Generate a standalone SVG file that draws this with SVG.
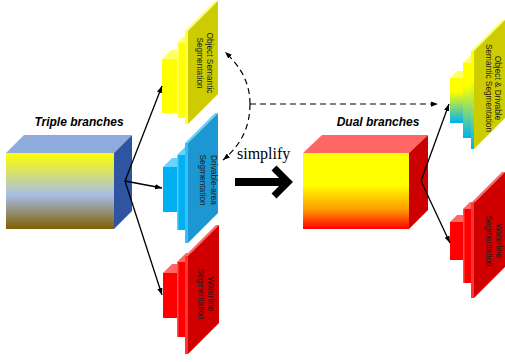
<svg xmlns="http://www.w3.org/2000/svg" width="505" height="362" viewBox="0 0 505 362">
<defs>
<linearGradient id="gTriple" x1="0" y1="0" x2="0" y2="1">
<stop offset="0" stop-color="#FFFF00"/>
<stop offset="0.55" stop-color="#A9BEE6"/>
<stop offset="1" stop-color="#7F6000"/>
</linearGradient>
<linearGradient id="gDual" x1="0" y1="0" x2="0" y2="1">
<stop offset="0" stop-color="#FFFF00"/>
<stop offset="0.42" stop-color="#FFFF00"/>
<stop offset="0.75" stop-color="#FF9900"/>
<stop offset="1" stop-color="#FF0000"/>
</linearGradient>
<linearGradient id="gYC" x1="0" y1="0" x2="0" y2="1">
<stop offset="0" stop-color="#FFFF00"/>
<stop offset="0.3" stop-color="#FFFF00"/>
<stop offset="1" stop-color="#00B0F0"/>
</linearGradient>
<marker id="ah" viewBox="0 0 8 6" refX="8" refY="3" markerWidth="7" markerHeight="5.5" orient="auto" markerUnits="userSpaceOnUse">
<path d="M0,0 L8,3 L0,6 z" fill="#000"/>
</marker>
</defs>
<style>
.title{font-family:"Liberation Sans",Arial,sans-serif;font-size:12px;font-weight:bold;font-style:italic;fill:#000}
.lbl{font-family:"Liberation Sans",Arial,sans-serif;font-size:8.3px;fill:#1a1a1a;text-anchor:middle}
.conn{stroke:#000;stroke-width:1.3;fill:none;marker-end:url(#ah)}
.dash{stroke:#000;stroke-width:1.2;fill:none;stroke-dasharray:6,4;marker-end:url(#ah)}
.yTop{fill:#FFFF66}.yFront{fill:#FFFF00}.yStrip{fill:#FFFF40}.ySide{fill:#CCCC00}
.bTop{fill:#66D4FF}.bFront{fill:#00B0F0}.bStrip{fill:#33C0FF}.bSide{fill:#1C97D2}
.rTop{fill:#FF6666}.rFront{fill:#FF0000}.rStrip{fill:#FF3333}.rSide{fill:#D10000}
.ycFront{fill:url(#gYC)}
</style>

<g id="title-triple"><text class="title" x="79" y="125.5" text-anchor="middle">Triple branches</text></g>
<g id="cube-triple">
<polygon points="6,153 24,135 132,135 114,153" fill="#8FAADC"/>
<polygon points="114,153 132,135 132,211 114,229" fill="#2F55A2"/>
<rect x="6" y="153" width="108" height="76" fill="url(#gTriple)"/>
</g>

<g id="stack-object">
<polygon class="yTop" points="162,59 177,59 186,50 171,50"/>
<rect class="yFront" x="162" y="59" width="15" height="54"/>
<polygon class="yTop" points="177,43 185,43 194,34 186,34"/>
<rect class="yFront" x="177" y="43" width="8" height="75"/>
<rect x="177" y="43" width="1.5" height="75" fill="#FFFF99"/>
<polygon class="yTop" points="185,31 188,31 218,1 215,1"/>
<rect class="yStrip" x="185" y="31" width="3" height="93"/>
<polygon class="ySide" points="188,31 218,1 218,94 188,124"/>
<text class="lbl" transform="translate(207,63) rotate(90)">Object Semantic</text>
<text class="lbl" transform="translate(197,63) rotate(90)">Segmentation</text>
</g>

<g id="stack-drivable">
<polygon class="bTop" points="163,167 177,167 186,158 172,158"/>
<rect class="bFront" x="163" y="167" width="14" height="45"/>
<polygon class="bTop" points="177,155 185,155 194,146 186,146"/>
<rect class="bFront" x="177" y="155" width="8" height="75"/>
<rect x="177" y="155" width="1.5" height="75" fill="#4FCBFF"/>
<polygon class="bTop" points="185,143 188,143 218,113 215,113"/>
<rect class="bStrip" x="185" y="143" width="3" height="100"/>
<polygon class="bSide" points="188,143 218,113 218,213 188,243"/>
<text class="lbl" transform="translate(211,180) rotate(90)">Drivable-area</text>
<text class="lbl" transform="translate(200,180) rotate(90)">Segmentation</text>
</g>

<g id="stack-waterline-left">
<polygon class="rTop" points="163,273 177,273 186,264 172,264"/>
<rect class="rFront" x="163" y="273" width="14" height="45"/>
<polygon class="rTop" points="177,262 185,262 194,253 186,253"/>
<rect class="rFront" x="177" y="262" width="8" height="75"/>
<rect x="177" y="262" width="1.5" height="75" fill="#FF4D4D"/>
<polygon class="rTop" points="185,256 188,256 219,225 216,225"/>
<rect class="rStrip" x="185" y="256" width="3" height="98"/>
<polygon class="rSide" points="188,256 219,225 219,323 188,354"/>
<text class="lbl" transform="translate(207.5,294) rotate(90)">Waterline</text>
<text class="lbl" transform="translate(197.5,294) rotate(90)">Segmentation</text>
</g>

<g id="label-simplify"><text x="237" y="159" font-family="'Liberation Serif','Times New Roman',serif" font-size="16" fill="#000">simplify</text></g>
<g id="big-arrow">
<line x1="235" y1="182" x2="285" y2="182" stroke="#000" stroke-width="8"/>
<path d="M274,168 L288,182 L274,196" fill="none" stroke="#000" stroke-width="7" stroke-linejoin="miter"/>
</g>

<g id="title-dual"><text class="title" x="378" y="126" text-anchor="middle">Dual branches</text></g>
<g id="cube-dual">
<polygon points="303,153 322,135 428,135 409,153" fill="#FF6666"/>
<polygon points="409,153 428,135 428,210 409,229" fill="#CC0000"/>
<rect x="303" y="153" width="106" height="76" fill="url(#gDual)"/>
</g>

<g id="stack-object-drivable">
<polygon class="yTop" points="450,78 463,78 470,71 457,71"/>
<rect class="ycFront" x="450" y="78" width="13" height="45"/>
<polygon class="yTop" points="463,63 471,63 478,56 470,56"/>
<rect class="ycFront" x="463" y="63" width="8" height="75"/>
<polygon class="yTop" points="471,51 474,51 505,20 502,20"/>
<rect class="ycFront" x="471" y="51" width="3" height="98"/>
<polygon class="ySide" points="474,51 505,20 505,118 474,149"/>
<text class="lbl" transform="translate(495,88) rotate(90)">Object &amp; Drivable</text>
<text class="lbl" transform="translate(485.5,88) rotate(90)">Semantic Segmentation</text>
</g>

<g id="stack-waterline-right">
<polygon class="rTop" points="450,222 463,222 470,215 457,215"/>
<rect class="rFront" x="450" y="222" width="13" height="38"/>
<polygon class="rTop" points="463,209 471,209 478,202 470,202"/>
<rect class="rFront" x="463" y="209" width="8" height="74"/>
<rect x="463" y="209" width="1.5" height="74" fill="#FF4D4D"/>
<polygon class="rTop" points="471,203 474,203 505,172 502,172"/>
<rect class="rStrip" x="471" y="203" width="3" height="95"/>
<polygon class="rSide" points="474,203 505,172 505,267 474,298"/>
<text class="lbl" transform="translate(495.5,241) rotate(90)">Waterline</text>
<text class="lbl" transform="translate(486,241) rotate(90)">Segmentation</text>
</g>

<g id="connectors">
<line class="conn" x1="125" y1="181" x2="162" y2="86"/>
<line class="conn" x1="125" y1="181" x2="162" y2="188"/>
<line class="conn" x1="125" y1="181" x2="162" y2="295"/>
<line class="conn" x1="421" y1="181" x2="449" y2="104"/>
<line class="conn" x1="421" y1="181" x2="450" y2="243"/>
<path class="dash" d="M250,104 C250,82 240,66 225,52"/>
<path class="dash" d="M250,104 C250,128 240,146 223,160"/>
<path class="dash" d="M250,104 H438"/>
</g>
</svg>
